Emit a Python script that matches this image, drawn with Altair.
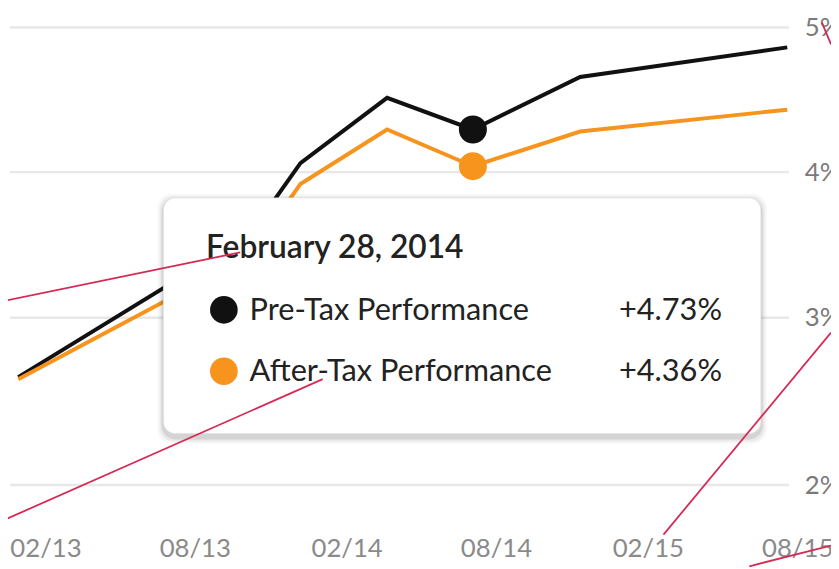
import altair as alt
import pandas as pd

# ---------------- data ----------------
dates = ["2012-12-30", "2013-10-06", "2013-12-07", "2014-03-22",
         "2014-07-04", "2014-11-11", "2015-07-20"]
pre_tax = [2.645, 3.565, 4.062, 4.514, 4.295, 4.658, 4.863]
after_tax = [2.633, 3.422, 3.918, 4.295, 4.041, 4.281, 4.432]
series_names = ["Pre-Tax Performance", "After-Tax Performance"]
series_colors = ["#111111", "#f7941d"]

hover_date = "2014-07-04"
hover_values = [4.295, 4.041]

tip_title = "February 28, 2014"
tip_values = ["+4.73%", "+4.36%"]
tip_box = {"x0": "2013-06-24", "x1": "2015-06-18", "y0": 3.823, "y1": 2.308}

y_ticks = [2, 3, 4, 5]
grid_start = "2012-12-20"
grid_end = "2015-07-22"
x_tick_months = [(2013, 2), (2013, 8), (2014, 2), (2014, 8), (2015, 2), (2015, 8)]

# red annotation strokes (date, value) -> (date, value)
ann_x0 = ["2012-12-08", "2012-12-08", "2015-02-20", "2015-06-04", "2015-08-31"]
ann_y0 = [3.109, 1.781, 1.704, 1.515, 5.034]
ann_x1 = ["2013-09-25", "2014-01-03", "2015-09-11", "2015-09-11", "2015-09-11"]
ann_y1 = [3.449, 2.633, 2.911, 1.639, 4.884]

# ---------------- tables ----------------
line_df = pd.DataFrame({
    "date": dates * 2,
    "value": pre_tax + after_tax,
    "series": [series_names[0]] * len(dates) + [series_names[1]] * len(dates),
})
hover_df = pd.DataFrame({"date": [hover_date] * 2, "value": hover_values, "series": series_names})
grid_df = pd.DataFrame({"v": y_ticks, "x0": [grid_start] * len(y_ticks), "x1": [grid_end] * len(y_ticks)})
tip_df = pd.DataFrame([tip_box])
anchor_df = pd.DataFrame({"date": [tip_box["x0"]], "value": [tip_box["y0"]], "title": [tip_title],
                          "l0": [series_names[0]], "l1": [series_names[1]],
                          "v0": [tip_values[0]], "v1": [tip_values[1]]})
ann_df = pd.DataFrame({"x0": ann_x0, "y0": ann_y0, "x1": ann_x1, "y1": ann_y1})

FONT = "Lato"

xscale = alt.Scale(type="utc", domain=[alt.DateTime(year=2012, month=12, date=20, utc=True),
                                       alt.DateTime(year=2015, month=9, date=11, utc=True)])
yscale = alt.Scale(domain=y_ticks, range=[479, 310, 163, 17], zero=False, nice=False)

x_axis = alt.Axis(values=[alt.DateTime(year=y, month=m, date=1, utc=True) for y, m in x_tick_months],
                  format="%m/%y", title=None, grid=False, domain=False, ticks=False,
                  labelPadding=23, labelBaseline="middle", labelFlush=False,
                  labelFont=FONT, labelFontSize=26, labelColor="#8a8a8a")
y_axis = alt.Axis(orient="right", values=y_ticks, labelExpr="datum.value + '%'", offset=-42,
                  title=None, grid=False, domain=False, ticks=False, labelPadding=15,
                  labelFont=FONT, labelFontSize=26, labelColor="#7a7a7a")


def X(field):
    return alt.X(field, type="temporal", scale=xscale, axis=x_axis)


def Y(field):
    return alt.Y(field, type="quantitative", scale=yscale, axis=y_axis)


color = alt.Color("series:N", scale=alt.Scale(domain=series_names, range=series_colors), legend=None)

grid = alt.Chart(grid_df).mark_rule(color="#e8e8e8", strokeWidth=2.5).encode(
    x=X("x0"), x2="x1:T", y=Y("v"))

lines = alt.Chart(line_df).mark_line(strokeWidth=4).encode(x=X("date"), y=Y("value"), color=color)

dots = alt.Chart(hover_df).mark_circle(size=800, opacity=1).encode(x=X("date"), y=Y("value"), color=color)

shadows = [
    alt.Chart(tip_df).mark_rect(color="#000000", opacity=op, cornerRadius=14,
                                xOffset=-s, x2Offset=s, yOffset=-s + 2, y2Offset=s + 4).encode(
        x=X("x0"), x2="x1:T", y=Y("y0"), y2="y1")
    for s, op in [(6, 0.03), (4, 0.05), (2, 0.09)]
]
box = alt.Chart(tip_df).mark_rect(fill="white", cornerRadius=12, stroke="#e2e2e2", strokeWidth=0.8).encode(
    x=X("x0"), x2="x1:T", y=Y("y0"), y2="y1")

base = alt.Chart(anchor_df).encode(x=X("date"), y=Y("value"))
title = base.mark_text(align="left", baseline="alphabetic", dx=43, dy=61, font=FONT,
                       fontSize=32, fontWeight=600, color="#222222").encode(text="title:N")
row_layers = []
for i, (dy, col) in enumerate([(114, series_colors[0]), (176, series_colors[1])]):
    row_layers.append(base.mark_circle(size=780, opacity=1, color=col, xOffset=61, yOffset=dy - 1))
    row_layers.append(base.mark_text(align="left", baseline="middle", dx=87, dy=dy, font=FONT,
                                     fontSize=31, color="#222222").encode(text=f"l{i}:N"))
    row_layers.append(base.mark_text(align="right", baseline="middle", dx=564, dy=dy, font=FONT,
                                     fontSize=31, color="#222222").encode(text=f"v{i}:N"))

ann = alt.Chart(ann_df).mark_rule(color="#d42a55", strokeWidth=1.8).encode(
    x=X("x0"), x2="x1:T", y=Y("y0"), y2="y1")

chart = alt.layer(grid, lines, dots, *shadows, box, title, *row_layers, ann).properties(
    width=829, height=520,
    autosize=alt.AutoSizeParams(type="none"),
    padding={"left": 2, "top": 0, "right": 0, "bottom": 41},
    background="white",
).configure_view(strokeOpacity=0)

chart.save("out.html", embed_options={"renderer": "svg", "actions": False})
